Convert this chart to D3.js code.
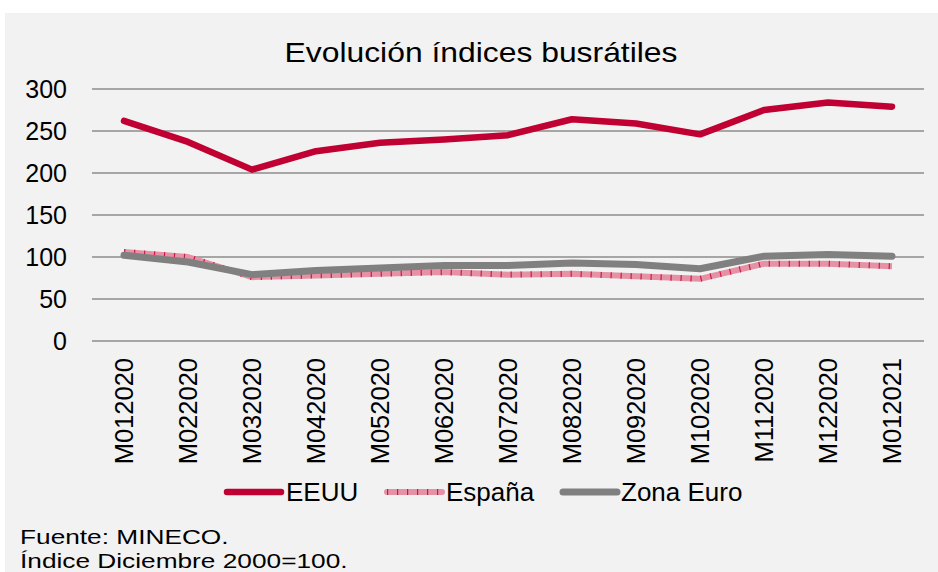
<!DOCTYPE html>
<html>
<head>
<meta charset="utf-8">
<script src="https://cdn.jsdelivr.net/npm/d3@7"></script>
<style>
  html, body { margin: 0; padding: 0; background: #ffffff; }
  svg { display: block; font-family: "Liberation Sans", Arial, sans-serif; }
</style>
</head>
<body>
<svg id="chart" width="938" height="572"></svg>
<script>
const categories = ["M012020","M022020","M032020","M042020","M052020","M062020","M072020","M082020","M092020","M102020","M112020","M122020","M012021"];
const eeuu      = [262, 237, 204, 226, 236, 240, 245, 264, 259, 246, 275, 284, 279];
const espana    = [106, 100, 76, 78, 80, 82, 79, 80, 77, 74, 92, 92, 89];
const zonaEuro  = [102, 94, 79, 84, 87, 90, 90, 93, 91, 86, 101, 103, 101];
const yTicks    = [0, 50, 100, 150, 200, 250, 300];
const seriesNames = ["EEUU", "España", "Zona Euro"];

const svg = d3.select("#chart");

// background panel
svg.append("rect").attr("x", 5).attr("y", 13).attr("width", 933).attr("height", 559).attr("fill", "#f2f2f2");

const x = d3.scalePoint().domain(categories).range([92, 924]).padding(0.5);
const y = d3.scaleLinear().domain([0, 300]).range([341, 89]);

// gridlines
svg.append("g").selectAll("line").data(yTicks).join("line")
  .attr("x1", 92).attr("x2", 924)
  .attr("y1", d => y(d)).attr("y2", d => y(d))
  .attr("stroke", "#a6a6a6").attr("stroke-width", 2);

// y axis labels
const yAxis = d3.axisLeft(y).tickValues(yTicks).tickSize(0).tickPadding(0);
const gy = svg.append("g").attr("transform", "translate(67,0)").call(yAxis);
gy.select(".domain").remove();
gy.selectAll("text").attr("font-size", "25px").attr("fill", "#000").attr("font-family", "Liberation Sans, Arial, sans-serif").attr("dy", "0.35em");

// x axis labels
svg.append("g").selectAll("text").data(categories).join("text")
  .attr("transform", d => `translate(${x(d)},358) rotate(-90)`)
  .attr("text-anchor", "end").attr("dy", "0.35em")
  .attr("font-size", "25.5px").attr("fill", "#000")
  .text(d => d);

const line = d3.line().x((d, i) => x(categories[i])).y(d => y(d));

// EEUU
svg.append("path").datum(eeuu).attr("d", line)
  .attr("fill", "none").attr("stroke", "#c00032").attr("stroke-width", 6.5)
  .attr("stroke-linecap", "round").attr("stroke-linejoin", "round");

// España (patterned)
svg.append("path").datum(espana).attr("d", line)
  .attr("fill", "none").attr("stroke", "#e592a6").attr("stroke-width", 6)
  .attr("stroke-linejoin", "round");
svg.append("path").datum(espana).attr("d", line)
  .attr("fill", "none").attr("stroke", "#cc1a44").attr("stroke-width", 6)
  .attr("stroke-dasharray", "1.2 8.8");

// Zona Euro
svg.append("path").datum(zonaEuro).attr("d", line)
  .attr("fill", "none").attr("stroke", "#808080").attr("stroke-width", 7)
  .attr("stroke-linecap", "round").attr("stroke-linejoin", "round");

// title
svg.append("text").attr("transform", "translate(481,62) scale(1.18,1)").attr("text-anchor", "middle")
  .attr("font-size", "27px").attr("fill", "#000").text("Evolución índices busrátiles");

// legend
const legendItems = [
  {name: seriesNames[0], x1: 227, x2: 281, tx: 286},
  {name: seriesNames[1], x1: 387, x2: 442, tx: 446},
  {name: seriesNames[2], x1: 563, x2: 617, tx: 621}
];
const lg = svg.append("g");
legendItems.forEach((it, i) => {
  const ly = 492;
  if (i === 0) {
    lg.append("line").attr("x1", it.x1).attr("x2", it.x2).attr("y1", ly).attr("y2", ly)
      .attr("stroke", "#c00032").attr("stroke-width", 6.5).attr("stroke-linecap", "round");
  } else if (i === 1) {
    lg.append("line").attr("x1", it.x1).attr("x2", it.x2).attr("y1", ly).attr("y2", ly)
      .attr("stroke", "#e592a6").attr("stroke-width", 6).attr("stroke-linecap", "round");
    lg.append("line").attr("x1", it.x1).attr("x2", it.x2).attr("y1", ly).attr("y2", ly)
      .attr("stroke", "#cc1a44").attr("stroke-width", 6).attr("stroke-dasharray", "1.2 8.8");
  } else {
    lg.append("line").attr("x1", it.x1).attr("x2", it.x2).attr("y1", ly).attr("y2", ly)
      .attr("stroke", "#808080").attr("stroke-width", 7).attr("stroke-linecap", "round");
  }
  lg.append("text").attr("x", it.tx).attr("y", ly).attr("dy", "0.35em")
    .attr("font-size", "26px").attr("fill", "#000").text(it.name);
});

// footer
svg.append("text").attr("transform", "translate(20,544) scale(1.25,1)").attr("font-size", "21px").attr("fill", "#000").text("Fuente: MINECO.");
svg.append("text").attr("transform", "translate(20,568) scale(1.25,1)").attr("font-size", "21px").attr("fill", "#000").text("Índice Diciembre 2000=100.");
</script>
</body>
</html>
